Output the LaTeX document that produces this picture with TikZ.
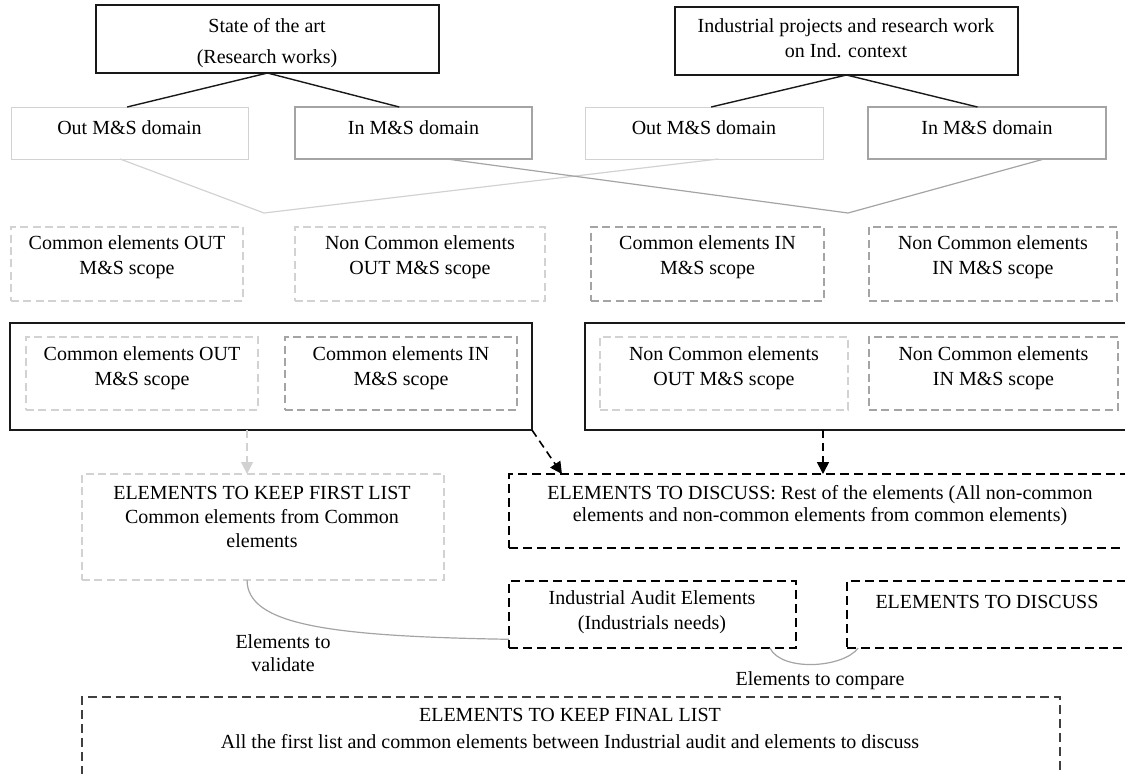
\documentclass[tikz,border=0pt]{standalone}
\usepackage{fontspec}
\setmainfont{Liberation Serif}
\usetikzlibrary{arrows.meta,fit,calc}
\definecolor{lgray}{HTML}{D2D2D2}
\definecolor{mgray}{HTML}{A4A4A4}
\definecolor{dgray}{HTML}{404040}
\tikzset{
  bx/.style={inner sep=0pt, outer sep=0pt},
  solidbox/.style={bx, draw=black!90, line width=0.7pt},
  lightbox/.style={bx, draw=lgray, line width=0.5pt},
  midbox/.style={bx, draw=mgray, line width=0.55pt},
  lightdash/.style={bx, draw=lgray, line width=0.55pt, dash pattern=on 4pt off 2.2pt},
  middash/.style={bx, draw=mgray, line width=0.55pt, dash pattern=on 4pt off 2.2pt},
  blackdash/.style={bx, draw=black, line width=0.7pt, dash pattern=on 4.6pt off 2.4pt},
  darkdash/.style={bx, draw=dgray, line width=0.6pt, dash pattern=on 4.6pt off 2.4pt},
  txt/.style={inner sep=0pt, align=center, font=\fontsize{10}{12.5}\selectfont},
  darkline/.style={draw=black!90, line width=0.7pt},
  lightline/.style={draw=lgray, line width=0.6pt},
  midline/.style={draw=mgray, line width=0.6pt},
  curveline/.style={draw=mgray, line width=0.6pt},
  blackarrow/.style={draw=black, line width=0.8pt, dash pattern=on 4pt off 2.5pt, -{Triangle[length=6pt,width=6pt]}},
  lightarrow/.style={draw=lgray, line width=0.6pt, dash pattern=on 4pt off 2.5pt, -{Triangle[length=6pt,width=6pt,fill=lgray]}},
}
\begin{document}
\begin{tikzpicture}[x=0.5pt,y=-0.5pt]
\useasboundingbox (0,0) rectangle (1125,773);
\clip (0,0) rectangle (1125,773);

% top boxes
\node[solidbox, fit={(96,5) (439,73)}] (T1) {};
\node[solidbox, fit={(675,7) (1018,75)}] (T2) {};
\node[txt, font=\fontsize{10}{15.5}\selectfont] (T1t) at (267,43.5) {State of the art\\(Research works)};
\node[txt] (T2t) at (846,38) {Industrial projects and research work\\on Ind. context};

% domain row
\node[lightbox, fit={(11,107) (248,159)}] (outL) {};
\node[midbox, fit={(295,107) (532,159)}] (inL) {};
\node[lightbox, fit={(585,107) (823,159)}] (outR) {};
\node[midbox, fit={(868,107) (1106,159)}] (inR) {};
\node[txt] (outLt) at (129.5,128) {Out M\&S domain};
\node[txt] (inLt) at (413.5,128) {In M\&S domain};
\node[txt] (outRt) at (704,128) {Out M\&S domain};
\node[txt] (inRt) at (987,128) {In M\&S domain};

% scope row
\node[lightdash, fit={(11,227) (243,301)}] (c1) {};
\node[lightdash, fit={(295,227) (545,301)}] (c2) {};
\node[middash, fit={(591,227) (824,301)}] (c3) {};
\node[middash, fit={(869,227) (1117,301)}] (c4) {};
\node[txt] (c1t) at (127,257.5) {Common elements OUT\\M\&S scope};
\node[txt] (c2t) at (420,257.5) {Non Common elements\\OUT M\&S scope};
\node[txt] (c3t) at (707.5,257.5) {Common elements IN\\M\&S scope};
\node[txt] (c4t) at (993,257.5) {Non Common elements\\IN M\&S scope};

% grouping boxes
\node[solidbox, fit={(10,323) (532,430)}] (bigL) {};
\node[solidbox, fit={(585,323) (1140,430)}] (bigR) {};
\node[lightdash, fit={(26,337) (258,410)}] (i1) {};
\node[middash, fit={(285,337) (517,410)}] (i2) {};
\node[lightdash, fit={(600,337) (848,410)}] (i3) {};
\node[middash, fit={(869,337) (1118,410)}] (i4) {};
\node[txt] (i1t) at (142,368.5) {Common elements OUT\\M\&S scope};
\node[txt] (i2t) at (401,368.5) {Common elements IN\\M\&S scope};
\node[txt] (i3t) at (724,368.5) {Non Common elements\\OUT M\&S scope};
\node[txt] (i4t) at (993.5,368.5) {Non Common elements\\IN M\&S scope};

% result boxes
\node[lightdash, fit={(82,474) (444,580)}] (first) {};
\node[blackdash, fit={(509,474) (1132,548)}] (rest) {};
\node[blackdash, fit={(509,581) (796,648)}] (audit) {};
\node[blackdash, fit={(847,581) (1128,648)}] (disc) {};
\node[darkdash, fit={(82,697) (1060,800)}] (final) {};
\node[txt, font=\fontsize{10}{12}\selectfont] (firstt) at (262,517) {ELEMENTS TO KEEP FIRST LIST\\Common elements from Common\\elements};
\node[txt, font=\fontsize{10}{11}\selectfont] (restt) at (820,506) {ELEMENTS TO DISCUSS: Rest of the elements (All non-common\\elements and non-common elements from common elements)};
\node[txt] (auditt) at (652,612.5) {Industrial Audit Elements\\(Industrials needs)};
\node[txt] (disct) at (987,602) {ELEMENTS TO DISCUSS};
\node[txt, font=\fontsize{10}{13.5}\selectfont] (finalt) at (570,728.5) {ELEMENTS TO KEEP FINAL LIST\\All the first list and common elements between Industrial audit and elements to discuss};
\node[txt, font=\fontsize{10}{11.5}\selectfont] (val) at (283,653.5) {Elements to\\validate};
\node[txt] (cmp) at (820,681) {Elements to compare};

% connectors from top boxes
\draw[darkline] (T1.south) -- ($(outL.north west)!0.49!(outL.north east)$);
\draw[darkline] (T1.south) -- ($(inL.north west)!0.44!(inL.north east)$);
\draw[darkline] (T2.south) -- ($(outR.north west)!0.53!(outR.north east)$);
\draw[darkline] (T2.south) -- ($(inR.north west)!0.46!(inR.north east)$);

% V joins
\coordinate (vL) at (264,213);
\coordinate (vR) at (848,213);
\draw[lightline] ($(outL.south west)!0.46!(outL.south east)$) -- (vL) -- ($(outR.south west)!0.56!(outR.south east)$);
\draw[midline] ($(inL.south west)!0.64!(inL.south east)$) -- (vR) -- ($(inR.south west)!0.74!(inR.south east)$);

% arrows
\coordinate (a1) at ($(first.north west)!0.456!(first.north east)$);
\draw[lightarrow] (a1 |- bigL.south) -- (a1);
\coordinate (a2) at ($(rest.north west)!0.085!(rest.north east)$);
\draw[blackarrow] (bigL.south east) -- (a2);
\coordinate (a3) at ($(rest.north west)!0.504!(rest.north east)$);
\draw[blackarrow] (a3 |- bigR.south) -- (a3);

% curves
\coordinate (v1) at ($(first.south west)!0.456!(first.south east)$);
\coordinate (v2) at ($(audit.north west)!0.87!(audit.south west)$);
\draw[curveline] (v1) .. controls +(0,45) and +(-179,-3) .. (v2);
\coordinate (w1) at ($(audit.south west)!0.909!(audit.south east)$);
\coordinate (w2) at ($(disc.south west)!0.04!(disc.south east)$);
\draw[curveline] (w1) .. controls +(12,24) and +(-15,20) .. (w2);
\end{tikzpicture}
\end{document}
